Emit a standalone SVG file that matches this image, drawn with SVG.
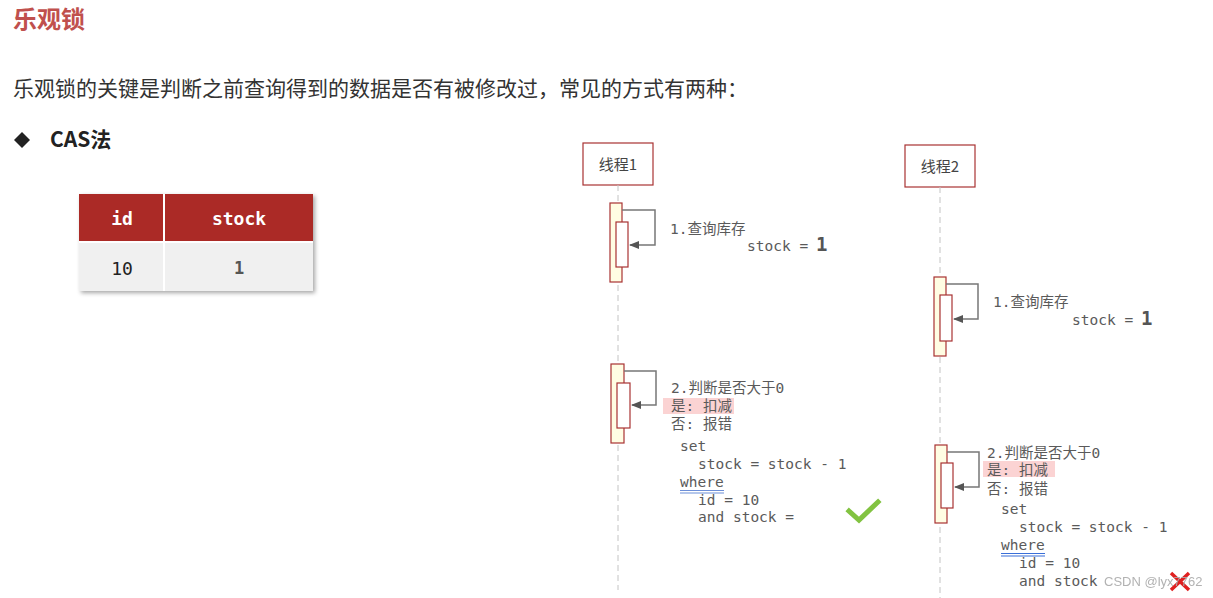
<svg xmlns="http://www.w3.org/2000/svg" width="1213" height="598" viewBox="0 0 1213 598">
<style>
.h{font-family:"Noto Sans CJK SC","Microsoft YaHei",sans-serif}
.m{font-family:"DejaVu Sans Mono","Noto Sans CJK SC",monospace;font-size:14.5px;fill:#5a5a5a}
.tb{fill:#fff;stroke:#a83232;stroke-width:1.2}
.act{fill:#fffde3;stroke:#a83232;stroke-width:1.2}
.inn{fill:#fff;stroke:#a83232;stroke-width:1.2}
.life{stroke:#c4c4c4;stroke-width:1;stroke-dasharray:6 4}
.conn{fill:none;stroke:#777;stroke-width:1.5}
.hl{fill:#fbd3d3}
.big{font-family:"DejaVu Sans Mono",monospace;font-size:19px;font-weight:bold;fill:#555}
</style>
<defs>
<marker id="ah" markerWidth="10" markerHeight="8" refX="9" refY="4" orient="auto" markerUnits="userSpaceOnUse">
<path d="M0,0 L10,4 L0,8 Z" fill="#555"/>
</marker>
<filter id="sh" x="-5%" y="-5%" width="112%" height="115%">
<feDropShadow dx="2" dy="2" stdDeviation="2" flood-color="#000" flood-opacity="0.35"/>
</filter>
</defs>
<rect width="1213" height="598" fill="#fff"/>
<text class="h" x="13" y="28" font-size="24" font-weight="bold" fill="#c0504d">乐观锁</text>
<text class="h" x="13" y="96" font-size="21" fill="#333">乐观锁的关键是判断之前查询得到的数据是否有被修改过，常见的方式有两种：</text>
<path d="M22,132 L30,140 L22,148 L14,140 Z" fill="#222"/>
<text class="h" x="50" y="147" font-size="21" font-weight="bold" fill="#222">CAS法</text>

<g id="table" filter="url(#sh)">
<rect x="79" y="194" width="234" height="97" fill="#fff"/>
<rect x="79" y="194" width="84" height="47" fill="#ab2b27"/>
<rect x="165" y="194" width="148" height="47" fill="#ab2b27"/>
<rect x="79" y="243" width="84" height="48" fill="#f0f0f0"/>
<rect x="165" y="243" width="148" height="48" fill="#f0f0f0"/>
</g>
<g font-family="DejaVu Sans Mono,monospace" text-anchor="middle">
<text x="122" y="225" font-size="18" font-weight="bold" fill="#fff">id</text>
<text x="239" y="225" font-size="18" font-weight="bold" fill="#fff">stock</text>
<text x="122" y="275" font-size="18" fill="#222">10</text>
<text x="239" y="274" font-size="17" font-weight="bold" fill="#555">1</text>
</g>

<g id="thread1">
<rect class="tb" x="583" y="143" width="70" height="42"/>
<text class="h" x="618" y="170" font-size="15" fill="#444" text-anchor="middle">线程1</text>
</g>
<g id="thread2">
<rect class="tb" x="905" y="145" width="70" height="42"/>
<text class="h" x="940" y="172" font-size="15" fill="#444" text-anchor="middle">线程2</text>
</g>

<g id="lifelines">
<line class="life" x1="618" y1="185" x2="618" y2="590"/>
<line class="life" x1="940" y1="187" x2="940" y2="598"/>
</g>

<g id="act1">
<rect class="act" x="610" y="203" width="12" height="79"/>
<rect class="inn" x="616" y="222" width="12" height="45"/>
</g>
<g id="act2">
<rect class="act" x="934" y="277" width="12" height="79"/>
<rect class="inn" x="940" y="295" width="12" height="46"/>
</g>
<g id="act3">
<rect class="act" x="611" y="364" width="13" height="79"/>
<rect class="inn" x="617" y="383" width="13" height="45"/>
</g>
<g id="act4">
<rect class="act" x="935" y="445" width="12" height="78"/>
<rect class="inn" x="941" y="463" width="12" height="45"/>
</g>

<g id="connectors">
<path class="conn" d="M622,210 H655 V245 H630" marker-end="url(#ah)"/>
<path class="conn" d="M946,284 H978 V319 H954" marker-end="url(#ah)"/>
<path class="conn" d="M624,371 H656 V405 H632" marker-end="url(#ah)"/>
<path class="conn" d="M947,452 H979 V487 H955" marker-end="url(#ah)"/>
</g>

<g id="note1">
<text class="m" x="670" y="234">1.查询库存</text>
<text class="m" x="747" y="251">stock = </text>
<text class="big" x="816" y="251">1</text>
</g>
<g id="note2">
<text class="m" x="993" y="307">1.查询库存</text>
<text class="m" x="1072" y="325">stock = </text>
<text class="big" x="1141" y="325">1</text>
</g>

<g id="note3">
<text class="m" x="671" y="393">2.判断是否大于0</text>
<rect class="hl" x="663" y="398" width="71" height="16"/>
<text class="m" x="671" y="411" fill="#8a3a3a">是: 扣减</text>
<text class="m" x="671" y="429">否: 报错</text>
<text class="m" x="680" y="451">set</text>
<text class="m" x="698" y="469">stock = stock - 1</text>
<text class="m" x="680" y="487">where</text>
<line x1="680" y1="490.5" x2="724" y2="490.5" stroke="#6d8fd8" stroke-width="1.2"/>
<line x1="680" y1="493" x2="724" y2="493" stroke="#6d8fd8" stroke-width="1.2"/>
<text class="m" x="698" y="505">id = 10</text>
<text class="m" x="698" y="522">and stock =</text>
<path d="M849,511 L859,520 L878,502" fill="none" stroke="#82c341" stroke-width="5" stroke-linecap="square"/>
</g>

<g id="note4">
<text class="m" x="987" y="458">2.判断是否大于0</text>
<rect class="hl" x="983" y="461" width="72" height="16"/>
<text class="m" x="987" y="475" fill="#8a3a3a">是: 扣减</text>
<text class="m" x="987" y="494">否: 报错</text>
<text class="m" x="1001" y="514">set</text>
<text class="m" x="1019" y="532">stock = stock - 1</text>
<text class="m" x="1001" y="550">where</text>
<line x1="1001" y1="553.5" x2="1045" y2="553.5" stroke="#3a6fd8" stroke-width="1.2"/>
<line x1="1001" y1="556" x2="1045" y2="556" stroke="#3a6fd8" stroke-width="1.2"/>
<text class="m" x="1019" y="586">and stock</text>
<text class="m" x="1019" y="568">id = 10</text>
<path d="M1171,573 L1189,590 M1189,573 L1171,590" stroke="#e02020" stroke-width="3.5"/>
<text x="1104" y="586" font-family="Liberation Sans,sans-serif" font-size="13" fill="#aaa" opacity="0.9">CSDN @lyx7762</text>
</g>
</svg>
